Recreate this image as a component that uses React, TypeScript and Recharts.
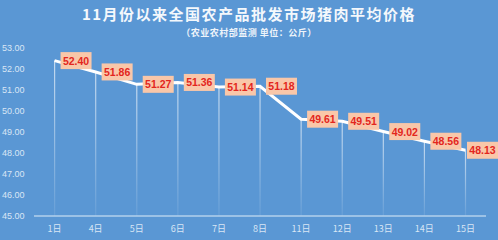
import { ComposedChart, Bar, Line, XAxis, YAxis, LabelList } from "recharts";

const days = ["1日", "4日", "5日", "6日", "7日", "8日", "11日", "12日", "13日", "14日", "15日"];
const prices = [52.4, 51.86, 51.27, 51.36, 51.14, 51.18, 49.61, 49.51, 49.02, 48.56, 48.13];
const yTicks = [45, 46, 47, 48, 49, 50, 51, 52, 53];

const data = days.map((day, i) => ({ day, price: prices[i] }));

const YTick = (props: any) => {
  const { y, payload } = props;
  return (
    <text x={2} y={y} dy={3} fill="#d9e6f4" fontSize={9} fontFamily="Liberation Sans, Arial" textAnchor="start">
      {payload.value.toFixed(2)}
    </text>
  );
};

const PriceLabel = (props: any) => {
  const { x, y, value } = props;
  // keep the last box inside the frame
  const bx = Math.min(x + 6, 498 - 31);
  return (
    <g>
      <rect x={bx} y={y - 8.5} width={31} height={17} fill="#f9c7a9" />
      <text
        x={bx + 15.5}
        y={y + 4}
        textAnchor="middle"
        fill="#e3261d"
        fontSize={10.5}
        fontWeight="bold"
        fontFamily="Liberation Sans, Arial"
      >
        {Number(value).toFixed(2)}
      </text>
    </g>
  );
};

export default function App() {
  return (
    <div style={{ position: "absolute", left: 0, top: 0, width: 498, height: 240, background: "#5a97d4" }}>
      <div
        style={{
          position: "absolute",
          top: 3,
          width: 498,
          textAlign: "center",
          color: "#f4f8fc",
          fontSize: 15,
          fontWeight: "bold",
          fontFamily: "Noto Sans CJK SC",
          letterSpacing: 1.5,
        }}
      >
        11月份以来全国农产品批发市场猪肉平均价格
      </div>
      <div
        style={{
          position: "absolute",
          top: 26,
          width: 498,
          textAlign: "center",
          color: "#eef4fa",
          fontSize: 9,
          fontWeight: "bold",
          fontFamily: "Noto Sans CJK SC",
          letterSpacing: 0.5,
        }}
      >
        （农业农村部监测 单位：公斤）
      </div>
      <ComposedChart width={498} height={240} data={data} margin={{ top: 48, right: 12, left: 0, bottom: 0 }}>
        <defs>
          <linearGradient id="drop" x1="0" y1="0" x2="0" y2="1">
            <stop offset="0%" stopColor="#ffffff" stopOpacity={0.65} />
            <stop offset="100%" stopColor="#ffffff" stopOpacity={0.08} />
          </linearGradient>
        </defs>
        <XAxis
          dataKey="day"
          height={24}
          interval={0}
          tickLine={false}
          axisLine={{ stroke: "#b3d0ec", strokeWidth: 1.5 }}
          tick={{ fill: "#d9e6f4", fontSize: 9, fontFamily: "Noto Sans CJK SC" }}
          tickMargin={4}
        />
        <YAxis
          width={34}
          domain={[45, 53]}
          ticks={yTicks}
          interval={0}
          axisLine={false}
          tickLine={false}
          tick={<YTick />}
        />
        <Bar dataKey="price" barSize={1.2} fill="url(#drop)" isAnimationActive={false} />
        <Line
          dataKey="price"
          type="linear"
          stroke="#ffffff"
          strokeWidth={3}
          dot={false}
          activeDot={false}
          isAnimationActive={false}
        >
          <LabelList dataKey="price" content={<PriceLabel />} />
        </Line>
      </ComposedChart>
    </div>
  );
}
